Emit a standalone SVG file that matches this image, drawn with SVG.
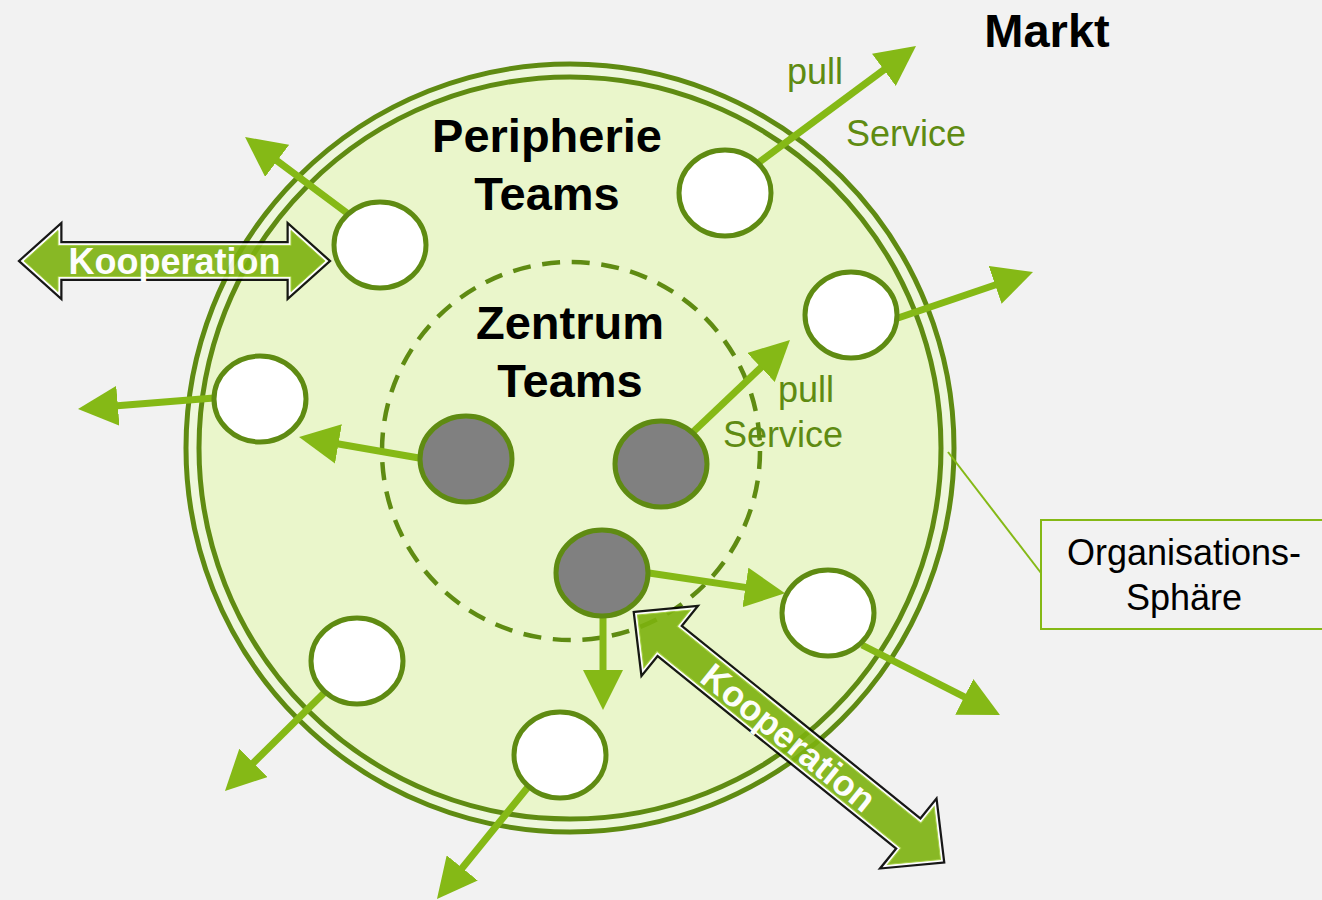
<svg xmlns="http://www.w3.org/2000/svg" width="1322" height="900" viewBox="0 0 1322 900">
<defs>
<style>
.ring{fill:none;stroke:#5F8B12;stroke-width:5}
.wn{fill:#FFFFFF;stroke:#5F8B12;stroke-width:5}
.gn{fill:#808080;stroke:#5F8B12;stroke-width:5}
.ar{fill:none;stroke:#85B916;stroke-width:7;marker-end:url(#ah)}
.big{font-family:"Liberation Sans",Arial,sans-serif;font-weight:bold;font-size:47px;fill:#000;text-anchor:middle}
.lbl{font-family:"Liberation Sans",Arial,sans-serif;font-size:36px;fill:#5F8B12}
.org{font-family:"Liberation Sans",Arial,sans-serif;font-size:36px;fill:#000;text-anchor:middle}
.koop{font-family:"Liberation Sans",Arial,sans-serif;font-weight:bold;font-size:36px;fill:#FFFFFF;text-anchor:middle}
.kb{fill:none;stroke:#000;stroke-width:9;stroke-linejoin:miter}
.kw{fill:none;stroke:#FFFFFF;stroke-width:4.5;stroke-linejoin:miter}
.kf{fill:#7DB20F;stroke:#9CCB2E;stroke-width:1}
</style>
<marker id="ah" viewBox="0 0 40 40" refX="10" refY="20" markerWidth="40" markerHeight="40" markerUnits="userSpaceOnUse" orient="auto">
<path d="M0,0 L40,20 L0,40 Z" fill="#85B916"/>
</marker>
</defs>
<rect x="0" y="0" width="1322" height="900" fill="#F2F2F2"/>

<g id="organisation-sphere">
<circle cx="570" cy="448" r="384" fill="#EEF7DC" stroke="#5F8B12" stroke-width="5"/>
<circle cx="570" cy="448" r="371" fill="#EAF6CB" stroke="#5F8B12" stroke-width="5"/>
</g>
<g id="zentrum-boundary">
<circle cx="571" cy="451" r="189" fill="none" stroke="#5F8B12" stroke-width="4.5" stroke-dasharray="18 11.7"/>
</g>

<g id="connectors">
<line class="ar" x1="347" y1="213" x2="269.1" y2="154.9"/>
<line class="ar" x1="758" y1="163" x2="891.9" y2="63.9"/>
<line class="ar" x1="898" y1="318" x2="1004.6" y2="281.7"/>
<line class="ar" x1="214" y1="398" x2="107.9" y2="406.6"/>
<line class="ar" x1="862" y1="645" x2="973.2" y2="701.4"/>
<line class="ar" x1="325" y1="692" x2="246.3" y2="769.9"/>
<line class="ar" x1="528" y1="787" x2="455.9" y2="875.7"/>
<line class="ar" x1="419" y1="458" x2="328.6" y2="442.2"/>
<line class="ar" x1="693" y1="432" x2="768.2" y2="360.6"/>
<line class="ar" x1="649" y1="573" x2="755.3" y2="588.9"/>
<line class="ar" x1="603" y1="617" x2="603" y2="680"/>
<line x1="948" y1="452" x2="1041" y2="573" stroke="#85B916" stroke-width="2"/>
</g>

<g id="peripherie-1"><ellipse class="wn" cx="380" cy="245" rx="46" ry="43"/></g>
<g id="peripherie-2"><ellipse class="wn" cx="725" cy="193" rx="46" ry="43"/></g>
<g id="peripherie-3"><ellipse class="wn" cx="851" cy="315" rx="46" ry="43"/></g>
<g id="peripherie-4"><ellipse class="wn" cx="260" cy="399" rx="46" ry="43"/></g>
<g id="peripherie-5"><ellipse class="wn" cx="828" cy="613" rx="46" ry="43"/></g>
<g id="peripherie-6"><ellipse class="wn" cx="357" cy="661" rx="46" ry="43"/></g>
<g id="peripherie-7"><ellipse class="wn" cx="560" cy="755" rx="46" ry="43"/></g>

<g id="zentrum-1"><ellipse class="gn" cx="466" cy="459" rx="46" ry="43"/></g>
<g id="zentrum-2"><ellipse class="gn" cx="661" cy="464" rx="46" ry="43"/></g>
<g id="zentrum-3"><ellipse class="gn" cx="602" cy="573" rx="46" ry="43"/></g>

<g id="labels">
<text class="big" x="547" y="152">Peripherie</text>
<text class="big" x="547" y="210">Teams</text>
<text class="big" x="570" y="339">Zentrum</text>
<text class="big" x="570" y="397">Teams</text>
<text class="big" x="1047" y="47" font-size="46">Markt</text>
<text class="lbl" x="787" y="84">pull</text>
<text class="lbl" x="846" y="146">Service</text>
<text class="lbl" x="778" y="402">pull</text>
<text class="lbl" x="723" y="447">Service</text>
</g>

<g id="organisations-box">
<rect x="1041" y="520" width="300" height="109" fill="#F2F2F2" stroke="#85B916" stroke-width="2"/>
<text class="org" x="1184" y="565">Organisations-</text>
<text class="org" x="1184" y="610">Sphäre</text>
</g>

<g id="kooperation-left" opacity="0.9" transform="translate(24,261)">
<path class="kb" d="M0,0 L34,-30.5 L34,-15.5 L267,-15.5 L267,-30.5 L301,0 L267,30.5 L267,15.5 L34,15.5 L34,30.5 Z"/>
<path class="kw" d="M0,0 L34,-30.5 L34,-15.5 L267,-15.5 L267,-30.5 L301,0 L267,30.5 L267,15.5 L34,15.5 L34,30.5 Z"/>
<path class="kf" d="M0,0 L34,-30.5 L34,-15.5 L267,-15.5 L267,-30.5 L301,0 L267,30.5 L267,15.5 L34,15.5 L34,30.5 Z"/>
<text class="koop" x="150.5" y="13">Kooperation</text>
</g>

<g id="kooperation-diagonal" opacity="0.9" transform="translate(637.5,615) rotate(38.9)">
<path class="kb" d="M0,0 L38,-37 L38,-16 L351.3,-16 L351.3,-37 L389.3,0 L351.3,37 L351.3,16 L38,16 L38,37 Z"/>
<path class="kw" d="M0,0 L38,-37 L38,-16 L351.3,-16 L351.3,-37 L389.3,0 L351.3,37 L351.3,16 L38,16 L38,37 Z"/>
<path class="kf" d="M0,0 L38,-37 L38,-16 L351.3,-16 L351.3,-37 L389.3,0 L351.3,37 L351.3,16 L38,16 L38,37 Z"/>
<text class="koop" x="194.6" y="13">Kooperation</text>
</g>
</svg>
